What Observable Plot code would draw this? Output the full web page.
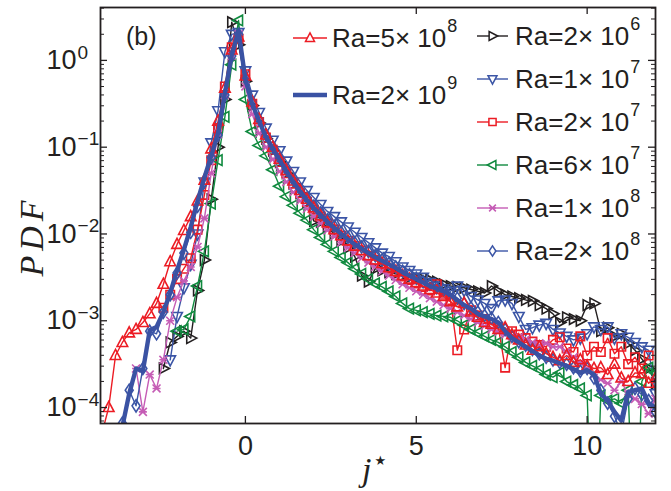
<!DOCTYPE html>
<html><head><meta charset="utf-8">
<script src="https://cdn.jsdelivr.net/npm/d3@7"></script>
<script src="https://cdn.jsdelivr.net/npm/@observablehq/plot@0.6"></script>
<style>body{margin:0;background:#fff} svg{display:block}</style>
</head><body><div id="chart"></div>
<script>
// ---- data: j* grid and log10(PDF) values (null = no point) ----
const jGrid = [-4.2,-4.0,-3.8,-3.6,-3.4,-3.2,-3.0,-2.8,-2.6,-2.4,
 -2.2,-2.0,-1.8,-1.6,-1.4,-1.2,-1.0,-0.8,-0.6,-0.4,
 -0.2,0.0,0.2,0.4,0.6,0.8,1.0,1.2,1.4,1.6,
 1.8,2.0,2.2,2.4,2.6,2.8,3.0,3.2,3.4,3.6,
 3.8,4.0,4.2,4.4,4.6,4.8,5.0,5.2,5.4,5.6,
 5.8,6.0,6.2,6.4,6.6,6.8,7.0,7.2,7.4,7.6,
 7.8,8.0,8.2,8.4,8.6,8.8,9.0,9.2,9.4,9.6,
 9.8,10.0,10.2,10.4,10.6,10.8,11.0,11.2,11.4,11.6,
 11.8,12.0];

const ra2e6 = [null,null,null,null,null,null,null,null,null,-3.55,
 -3.25,-3.18,-3.12,-3.20,-2.65,-2.30,-1.60,-1.00,-0.45,0.44,
 0.18,-0.24,-0.52,-0.72,-0.90,-1.04,-1.17,-1.30,-1.42,-1.53,
 -1.63,-1.85,-1.86,-1.92,-2.00,-2.08,-2.16,-2.26,-2.48,-2.55,
 -2.40,-2.42,-2.44,-2.46,-2.48,-2.50,-2.51,-2.52,-2.53,-2.55,
 -2.58,-2.60,-2.61,-2.62,-2.64,-2.66,-2.68,-2.60,-2.66,-2.70,
 -2.72,-2.74,-2.76,-2.77,-2.82,-2.86,-2.92,-3.02,-2.96,-2.98,
 -3.00,-2.82,-2.80,-3.12,-3.08,-3.18,-3.15,-3.26,-3.34,-3.44,
 -3.55,-3.72];

const ra1e7 = [null,null,null,null,null,null,null,null,null,null,
 -3.45,-2.95,-2.62,-2.35,-2.00,-1.40,-0.95,-0.58,0.10,0.30,
 0.32,-0.12,-0.40,-0.60,-0.78,-0.92,-1.04,-1.16,-1.28,-1.40,
 -1.50,-1.58,-1.66,-1.74,-1.80,-1.86,-1.92,-1.98,-2.04,-2.10,
 -2.16,-2.22,-2.26,-2.32,-2.38,-2.42,-2.46,-2.50,-2.56,-2.60,
 -2.63,-2.66,-2.60,-2.65,-2.72,-2.76,-2.80,-2.86,-2.77,-2.76,
 -2.80,-2.95,-3.10,-3.08,-3.05,-3.03,-3.10,-3.14,-3.18,-3.22,
 -3.20,-3.15,-3.07,-3.10,-3.07,-3.20,-3.15,-3.19,-3.25,-3.30,
 -3.34,-3.84];

const ra2e7 = [null,null,null,null,null,null,null,null,null,-2.85,
 -2.70,-2.52,-2.40,-2.28,-1.95,-1.55,-1.15,-0.78,-0.30,0.15,
 0.25,-0.16,-0.50,-0.71,-0.89,-1.03,-1.17,-1.30,-1.42,-1.53,
 -1.63,-1.72,-1.80,-1.88,-1.95,-2.02,-2.08,-2.14,-2.19,-2.25,
 -2.30,-2.35,-2.40,-2.44,-2.49,-2.53,-2.57,-2.61,-2.65,-2.58,
 -2.70,-2.76,-3.34,-3.10,-2.88,-2.94,-2.98,-3.03,-3.07,-3.54,
 -3.12,-3.16,-3.20,-3.24,-3.28,-3.30,-3.22,-3.19,-3.32,-3.36,
 -3.18,-3.40,-3.30,-3.36,-3.20,-3.38,-3.30,-3.50,-3.42,-3.55,
 -3.40,null];

const ra6e7 = [null,null,null,null,null,null,null,null,null,null,
 null,-3.12,-3.10,-2.95,-2.60,-2.20,-1.65,-1.15,-0.65,-0.05,
 0.46,-0.45,-0.82,-0.98,-1.10,-1.26,-1.45,-1.57,-1.67,-1.76,
 -1.84,-1.95,-2.04,-2.12,-2.20,-2.27,-2.33,-2.40,-2.46,-2.52,
 -2.57,-2.61,-2.66,-2.72,-2.80,-2.86,-2.88,-2.90,-2.92,-2.94,
 -2.95,-2.96,-3.00,-3.05,-3.10,-3.14,-3.18,-3.22,-3.25,-3.30,
 -3.36,-3.42,-3.48,-3.52,-3.56,-3.62,-3.65,-3.60,-3.70,-3.74,
 -3.78,-3.86,-6.00,-3.86,-3.92,-3.90,-3.95,-3.80,-6.00,-3.70,
 -3.54,-3.60];

const ra1e8 = [null,null,null,null,null,-3.55,-4.05,-3.62,-3.78,-3.45,
 -3.00,-2.73,-2.54,-2.38,-2.15,-1.82,-1.30,-0.85,-0.40,0.05,
 0.30,-0.30,-0.62,-0.84,-1.00,-1.14,-1.28,-1.40,-1.52,-1.62,
 -1.71,-1.80,-1.88,-1.96,-2.03,-2.10,-2.16,-2.22,-2.28,-2.33,
 -2.38,-2.43,-2.48,-2.53,-2.58,-2.62,-2.66,-2.70,-2.74,-2.78,
 -2.82,-2.86,-2.90,-2.94,-2.98,-3.02,-3.06,-3.10,-3.13,-3.16,
 -3.18,-3.19,-3.22,-3.25,-3.28,-3.26,-3.30,-3.30,-3.36,-3.42,
 -3.48,-3.55,-3.62,-3.68,-3.72,-3.80,-3.70,-3.85,-3.90,-3.96,
 -4.07,-3.90];

const ra2e8 = [null,null,null,-4.18,-3.80,-3.98,-3.55,-3.12,-3.15,-2.90,
 -2.70,-2.45,-2.22,-1.98,-1.68,-1.40,-1.12,-0.86,-0.40,0.05,
 0.30,-0.20,-0.48,-0.68,-0.86,-1.00,-1.13,-1.26,-1.38,-1.49,
 -1.59,-1.68,-1.76,-1.84,-1.91,-1.98,-2.04,-2.10,-2.15,-2.20,
 -2.25,-2.30,-2.34,-2.38,-2.43,-2.47,-2.51,-2.55,-2.58,-2.62,
 -2.65,-2.68,-2.74,-2.80,-2.85,-2.90,-2.94,-2.97,-3.02,-3.10,
 -3.18,-3.24,-3.28,-3.33,-3.38,-3.42,-3.45,-3.48,-3.50,-3.54,
 -3.58,-3.55,-3.66,-3.80,-3.95,-4.10,-4.30,-3.90,-3.78,-3.85,
 -3.92,-4.05];

const ra5e8 = [-4.30,-4.00,-3.40,-3.25,-3.14,-3.10,-3.02,-2.92,-2.80,-2.58,
 -2.32,-2.12,-1.96,-1.80,-1.62,-1.38,-1.02,-0.70,-0.32,0.12,
 0.27,-0.18,-0.48,-0.68,-0.86,-1.00,-1.14,-1.27,-1.39,-1.50,
 -1.60,-1.70,-1.79,-1.87,-1.95,-2.02,-2.08,-2.14,-2.19,-2.25,
 -2.30,-2.34,-2.39,-2.43,-2.48,-2.52,-2.56,-2.60,-2.64,-2.68,
 -2.72,-2.78,-2.84,-2.80,-2.90,-2.96,-3.02,-3.04,-3.10,-3.08,
 -3.16,-3.22,-3.28,-3.34,-3.30,-3.38,-3.42,-3.46,-3.40,-3.48,
 -3.45,-3.52,-3.55,-3.54,-3.62,-3.50,-3.66,-3.70,-3.60,-3.61,
 -3.72,-3.66];

const ra2e9 = [null,null,null,-4.22,-3.84,-3.55,-3.58,-3.11,-3.07,-2.90,
 -2.68,-2.42,-2.18,-1.92,-1.62,-1.35,-1.10,-0.84,-0.38,0.06,
 0.34,-0.22,-0.50,-0.70,-0.88,-1.02,-1.15,-1.28,-1.40,-1.51,
 -1.61,-1.70,-1.78,-1.86,-1.93,-2.00,-2.06,-2.12,-2.17,-2.22,
 -2.27,-2.31,-2.35,-2.39,-2.44,-2.48,-2.52,-2.56,-2.60,-2.63,
 -2.66,-2.70,-2.76,-2.82,-2.86,-2.92,-2.95,-2.98,-3.02,-3.12,
 -3.20,-3.25,-3.30,-3.35,-3.40,-3.44,-3.46,-3.49,-3.52,-3.56,
 -3.60,-3.57,-3.62,-3.84,-3.92,-4.05,-4.15,-3.82,-3.80,-3.78,
 -3.95,-4.00];

// legend labels (base text and exponent)
const legendBase = {ra5e8:"Ra=5\u00d7 10", ra2e9:"Ra=2\u00d7 10", ra2e6:"Ra=2\u00d7 10", ra1e7:"Ra=1\u00d7 10",
  ra2e7:"Ra=2\u00d7 10", ra6e7:"Ra=6\u00d7 10", ra1e8:"Ra=1\u00d7 10", ra2e8:"Ra=2\u00d7 10"};
const legendExp = {ra5e8:"8", ra2e9:"9", ra2e6:"6", ra1e7:"7", ra2e7:"7", ra6e7:"7", ra1e8:"8", ra2e8:"8"};

// tick labels
const xTickValues = [0, 5, 10];
const yTickValues = [1e-4, 1e-3, 1e-2, 1e-1, 1];
const yTickExp = ["\u22124", "\u22123", "\u22122", "\u22121", "0"];

// ---- styling ----
function polySym(pts) {
  return {draw(ctx, size) {
    const r = Math.sqrt(size / Math.PI);
    ctx.moveTo(pts[0][0] * r, pts[0][1] * r);
    for (let i = 1; i < pts.length; i++) ctx.lineTo(pts[i][0] * r, pts[i][1] * r);
    ctx.closePath();
  }};
}
const symTriUp = polySym([[0,-1.15],[1.0,0.75],[-1.0,0.75]]);
const symTriDown = polySym([[0,1.15],[1.0,-0.75],[-1.0,-0.75]]);
const symTriRight = polySym([[1.15,0],[-0.75,-1.0],[-0.75,1.0]]);
const symTriLeft = polySym([[-1.15,0],[0.75,-1.0],[0.75,1.0]]);
const symSquare = polySym([[-0.8,-0.8],[0.8,-0.8],[0.8,0.8],[-0.8,0.8]]);
const symDiamond = polySym([[0,-1.15],[0.75,0],[0,1.15],[-0.75,0]]);
const symX = {draw(ctx, size) {
  const r = Math.sqrt(size / Math.PI) * 0.75;
  ctx.moveTo(-r, -r); ctx.lineTo(r, r); ctx.moveTo(-r, r); ctx.lineTo(r, -r);
  ctx.moveTo(-r, 0); ctx.lineTo(r, 0);
}};

const series = [
  {key: "ra2e6", values: ra2e6, color: "#231f20", sym: symTriRight, width: 1.4},
  {key: "ra1e7", values: ra1e7, color: "#3b55a6", sym: symTriDown, width: 1.4},
  {key: "ra2e7", values: ra2e7, color: "#ec1c24", sym: symSquare, width: 1.4},
  {key: "ra6e7", values: ra6e7, color: "#108a3f", sym: symTriLeft, width: 1.4},
  {key: "ra1e8", values: ra1e8, color: "#c55cb5", sym: symX, width: 1.4},
  {key: "ra2e8", values: ra2e8, color: "#3b55a6", sym: symDiamond, width: 1.4},
  {key: "ra5e8", values: ra5e8, color: "#ec1c24", sym: symTriUp, width: 1.4},
  {key: "ra2e9", values: ra2e9, color: "#3a52a3", sym: null, width: 4.4}
];

const W = 671, H = 491, mL = 100, mR = 16, mT = 7, mB = 68;
const plotW = W - mL - mR, plotH = H - mT - mB;
const ink = "#231f20";
const markR = 5.3;

const yMinor = [];
for (let e = -5; e <= 0; e++) for (let k = 2; k <= 9; k++) {
  const v = k * Math.pow(10, e);
  if (v > 6.55e-5 && v < 4.07) yMinor.push(v);
}

const marks = [];
for (const s of series) {
  const rows = [];
  s.values.forEach((v, i) => { if (v !== null) rows.push({j: jGrid[i], pdf: Math.pow(10, v)}); });
  marks.push(Plot.line(rows, {x: "j", y: "pdf", stroke: s.color, strokeWidth: s.width, clip: true}));
  if (s.sym) marks.push(Plot.dot(rows, {x: "j", y: "pdf", symbol: s.sym, r: markR, stroke: s.color, fill: "none", strokeWidth: 1.6, clip: true}));
}
// frame & inward ticks
marks.push(
  Plot.frame({stroke: ink, strokeWidth: 1.8}),
  Plot.ruleX(xTickValues, {x: d => d, stroke: ink, strokeWidth: 1.3, insetTop: plotH - 7}),
  Plot.ruleX(xTickValues, {x: d => d, stroke: ink, strokeWidth: 1.3, insetBottom: plotH - 7}),
  Plot.ruleY(yTickValues, {y: d => d, stroke: ink, strokeWidth: 1.3, insetRight: plotW - 7}),
  Plot.ruleY(yTickValues, {y: d => d, stroke: ink, strokeWidth: 1.3, insetLeft: plotW - 7}),
  Plot.ruleY(yMinor, {y: d => d, stroke: ink, strokeWidth: 1, insetRight: plotW - 4}),
  Plot.ruleY(yMinor, {y: d => d, stroke: ink, strokeWidth: 1, insetLeft: plotW - 4}),
  Plot.text(xTickValues, {x: d => d, text: d => String(d), frameAnchor: "bottom", lineAnchor: "top", dy: 12, fontSize: 27, fill: ink}),
  Plot.text(yTickValues, {y: d => d, text: () => "10", frameAnchor: "left", textAnchor: "start", dx: -54, fontSize: 27, fill: ink})
);

const chart = Plot.plot({
  width: W, height: H,
  marginLeft: mL, marginRight: mR, marginTop: mT, marginBottom: mB,
  style: {fontFamily: "'Liberation Sans', Arial, sans-serif", background: "#fff", overflow: "visible"},
  x: {domain: [-4.24, 12], axis: null},
  y: {type: "log", domain: [6.55e-5, 4.07], axis: null},
  marks
});
document.getElementById("chart").appendChild(chart);

const svg = d3.select(chart);
// superscript exponents on y tick labels (last text mark of the plot)
const textGroups = chart.querySelectorAll('g[aria-label="text"]');
const yLabelGroup = textGroups[textGroups.length - 1];
if (yLabelGroup) {
  d3.select(yLabelGroup).selectAll("text").each(function(d, i) {
    d3.select(this).append("tspan").attr("dy", "-0.55em").attr("dx", 1).attr("font-size", 19).text(yTickExp[i]);
  });
}

const g = svg.append("g").attr("font-family", "'Liberation Sans', Arial, sans-serif")
  .attr("fill", ink).attr("text-anchor", "start");
// panel label
g.append("text").attr("x", 126).attr("y", 45).attr("font-size", 25).text("(b)");
// y label
g.append("text").attr("transform", "translate(31,236) rotate(-90)").attr("text-anchor", "middle")
  .attr("dominant-baseline", "central").attr("font-family", "'Liberation Serif', 'DejaVu Serif', serif")
  .attr("font-style", "italic").attr("font-size", 34).attr("letter-spacing", 5).text("PDF");
// x label
const xl = g.append("text").attr("x", 362).attr("y", 481).attr("font-family", "'Liberation Serif', 'DejaVu Serif', serif")
  .attr("font-style", "italic").attr("font-size", 34).text("j");
xl.append("tspan").attr("dy", -16).attr("dx", 3).attr("font-style", "normal").attr("font-family", "'DejaVu Sans', sans-serif").attr("font-size", 13).text("\u2605");

// legend
const byKey = Object.fromEntries(series.map(s => [s.key, s]));
function legendEntry(key, x1, x2, xt, y) {
  const s = byKey[key];
  g.append("line").attr("x1", x1).attr("x2", x2).attr("y1", y).attr("y2", y)
    .attr("stroke", s.color).attr("stroke-width", s.width);
  if (s.sym) {
    const p = d3.path(); s.sym.draw(p, Math.PI * 4.5 * 4.5);
    g.append("path").attr("d", p.toString()).attr("transform", `translate(${(x1 + x2) / 2},${y})`)
      .attr("fill", "#fff").attr("stroke", s.color).attr("stroke-width", 1.5);
  }
  const t = g.append("text").attr("x", xt).attr("y", y + 9).attr("font-size", 26).text(legendBase[key]);
  t.append("tspan").attr("dy", -15).attr("dx", 1).attr("font-size", 18).text(legendExp[key]);
}
legendEntry("ra5e8", 293, 327, 332, 38);
legendEntry("ra2e9", 293, 327, 332, 95);
["ra2e6", "ra1e7", "ra2e7", "ra6e7", "ra1e8", "ra2e8"].forEach((k, i) => legendEntry(k, 477, 508, 515, 36 + i * 43));
</script></body></html>
